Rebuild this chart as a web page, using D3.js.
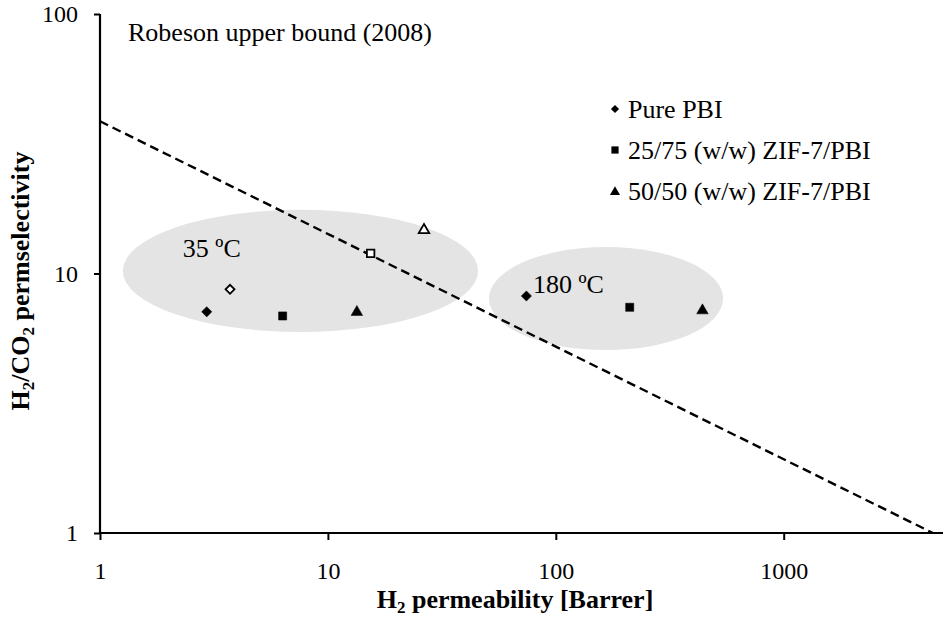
<!DOCTYPE html>
<html>
<head>
<meta charset="utf-8">
<script src="https://cdn.jsdelivr.net/npm/d3@7"></script>
<style>
  body { margin: 0; background: #fff; }
  text { font-family: "Liberation Serif", "Times New Roman", serif; fill: #000; }
</style>
</head>
<body>
<div id="chart"></div>
<script>
// H2 permeability [Barrer] and H2/CO2 permselectivity
const series = ["Pure PBI", "25/75 (w/w) ZIF-7/PBI", "50/50 (w/w) ZIF-7/PBI"];
const shapes = ["diamond", "square", "triangle"];

// 35 ºC, filled markers
const x35 = [2.94, 6.33, 13.4];
const y35 = [7.12, 6.86, 7.1];
// 35 ºC, open markers
const x35open = [3.72, 15.4, 26.4];
const y35open = [8.69, 11.96, 14.7];
// 180 ºC, filled markers
const x180 = [74.3, 211, 440];
const y180 = [8.19, 7.41, 7.2];

// Robeson upper bound (2008) line
const robesonX = [1, 4515];
const robesonY = [38.6, 1];

// grey groups [xmin, xmax, ymin, ymax]
const groups = [
  { label: "35 ºC", box: [1.26, 45.6, 5.95, 17.6], lx: 2.31, ly: 11.58 },
  { label: "180 ºC", box: [50.9, 542, 5.07, 12.65], lx: 79.4, ly: 8.41 }
];

const xTicks = [1, 10, 100, 1000];
const yTicks = [1, 10, 100];

const width = 949, height = 631;
const svg = d3.select("#chart").append("svg")
  .attr("width", width).attr("height", height);

const x = d3.scaleLog().domain([1, 5000]).range([100, 943]);
const y = d3.scaleLog().domain([1, 100]).range([533, 14]);

// 灰色橢圓
groups.forEach(g => {
  const x0 = x(g.box[0]), x1 = x(g.box[1]);
  const y0 = y(g.box[3]), y1 = y(g.box[2]);
  svg.append("ellipse")
    .attr("cx", (x0 + x1) / 2).attr("cy", (y0 + y1) / 2)
    .attr("rx", (x1 - x0) / 2).attr("ry", (y1 - y0) / 2)
    .attr("fill", "#e4e4e4");
});

// axes
const xAxis = svg.append("g").attr("transform", "translate(0,533)")
  .call(d3.axisBottom(x).tickValues(xTicks).tickFormat(d3.format("d")).tickSize(7).tickPadding(22));
const yAxis = svg.append("g").attr("transform", "translate(100,0)")
  .call(d3.axisLeft(y).tickValues(yTicks).tickFormat(d3.format("d")).tickSize(6).tickPadding(16));
[xAxis, yAxis].forEach(a => {
  a.select(".domain").attr("stroke", "#000").attr("stroke-width", 2.2);
  a.selectAll(".tick line").attr("stroke", "#000").attr("stroke-width", 2);
  a.selectAll(".tick text").style("font-size", "24px")
    .style("font-family", "'Liberation Serif', serif");
});
xAxis.select(".domain").attr("d", "M100,0H943");
yAxis.select(".domain").attr("d", "M0,14V533");

// Robeson line
svg.append("path")
  .datum(robesonX.map((d, i) => [d, robesonY[i]]))
  .attr("d", d3.line().x(d => x(d[0])).y(d => y(d[1])))
  .attr("fill", "none").attr("stroke", "#000")
  .attr("stroke-width", 2.4).attr("stroke-dasharray", "9,5");

svg.append("text").attr("x", 128).attr("y", 41)
  .style("font-size", "26px").text("Robeson upper bound (2008)");

// markers
function symbolPath(shape, big) {
  if (shape === "diamond") return d3.symbol(d3.symbolSquare, big ? 52 : 40)();
  if (shape === "square") return d3.symbol(d3.symbolSquare, big ? 66 : 56)();
  return d3.symbol(d3.symbolTriangle, big ? 58 : 48)();
}
function drawPoints(xs, ys, open) {
  xs.forEach((v, i) => {
    const rot = shapes[i] === "diamond" ? " rotate(45)" : "";
    svg.append("path")
      .attr("d", symbolPath(shapes[i], !open))
      .attr("transform", `translate(${x(v)},${y(ys[i])})${rot}`)
      .attr("fill", open ? "#fff" : "#000")
      .attr("stroke", "#000")
      .attr("stroke-width", open ? 1.8 : 0.5);
  });
}
drawPoints(x35, y35, false);
drawPoints(x35open, y35open, true);
drawPoints(x180, y180, false);

groups.forEach(g => {
  svg.append("text").attr("x", x(g.lx)).attr("y", y(g.ly))
    .style("font-size", "26px").text(g.label);
});

// legend
const legend = svg.append("g").attr("transform", "translate(615,109)");
series.forEach((s, i) => {
  const row = legend.append("g").attr("transform", `translate(0,${i * 41})`);
  const rot = shapes[i] === "diamond" ? " rotate(45)" : "";
  row.append("path")
    .attr("d", i === 0 ? d3.symbol(d3.symbolSquare, 34)() : i === 1 ? d3.symbol(d3.symbolSquare, 52)() : d3.symbol(d3.symbolTriangle, 44)())
    .attr("transform", `translate(0,${i === 2 ? 1 : 0})${rot}`)
    .attr("fill", "#000");
  row.append("text").attr("x", 13).attr("y", 9)
    .style("font-size", "26px").text(s);
});

// axis titles
const xt = svg.append("text").attr("x", 515).attr("y", 608)
  .attr("text-anchor", "middle").style("font-size", "26px").style("font-weight", "bold");
xt.append("tspan").text("H");
xt.append("tspan").attr("dy", 5).style("font-size", "17px").text("2");
xt.append("tspan").attr("dy", -5).text(" permeability [Barrer]");

const yt = svg.append("text").attr("transform", "translate(29,281) rotate(-90)")
  .attr("text-anchor", "middle").style("font-size", "26px").style("font-weight", "bold");
yt.append("tspan").text("H");
yt.append("tspan").attr("dy", 5).style("font-size", "17px").text("2");
yt.append("tspan").attr("dy", -5).text("/CO");
yt.append("tspan").attr("dy", 5).style("font-size", "17px").text("2");
yt.append("tspan").attr("dy", -5).text(" permselectivity");
</script>
</body>
</html>
